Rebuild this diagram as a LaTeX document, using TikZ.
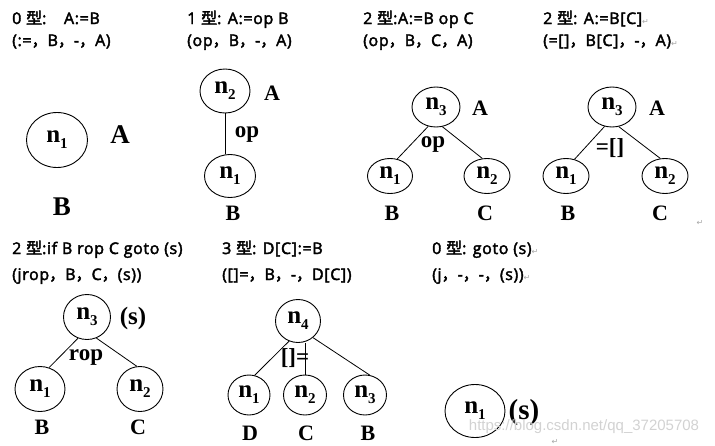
\documentclass[tikz,border=0pt]{standalone}
\usepackage{fontspec}
\setmainfont{Liberation Serif}
\newfontfamily\cjk[FakeBold=2.5]{Noto Sans CJK SC}
\newfontfamily\hfont[FakeBold=2.5,LetterSpace=4]{Open Sans}
\newfontfamily\wmfont{Liberation Sans}
\newfontfamily\dvfont{DejaVu Sans}
\usetikzlibrary{shapes.geometric}
\newcommand{\nsub}[1]{{\fontsize{25}{25}\selectfont\bfseries n\raisebox{-6pt}{\fontsize{15}{15}\selectfont #1}}}
\newcommand{\retmark}{{\dvfont\mdseries\fontsize{8}{8}\selectfont\color{gray!70}↵}}
\newcommand{\xing}{{\cjk 型}}
\newcommand{\cm}{{\cjk ，}}
\begin{document}
\begin{tikzpicture}[x=1pt,y=-1pt,
  hdr/.style={anchor=base west, inner sep=0, font=\hfont\fontsize{16}{16}\selectfont},
  nd/.style={ellipse, draw, line width=0.9pt, inner sep=0},
  lbl/.style={inner sep=0, font=\bfseries\fontsize{22}{22}\selectfont},
  big/.style={inner sep=0, font=\bfseries\fontsize{27}{27}\selectfont},
  oplbl/.style={inner sep=0, font=\bfseries\fontsize{23}{23}\selectfont},
  ed/.style={line width=0.8pt},
  ret/.style={inner sep=0}]
\useasboundingbox (0,0) rectangle (715,445);

% headers
\node[hdr] (h1) at (12,24) {0 \xing:\hspace{1.1em}A:=B};
\node[hdr] (h2) at (12,46) {(:=\cm B\cm -\cm A)};
\node[hdr] (h3) at (187,24) {1 \xing: A:=op B};
\node[hdr] (h4) at (187,46) {(op\cm B\cm -\cm A)};
\node[hdr] (h5) at (363,24) {2 \xing:A:=B op C};
\node[hdr] (h6) at (363,46) {(op\cm B\cm C\cm A)};
\node[hdr] (h7) at (543,24) {2 \xing: A:=B[C]\retmark};
\node[hdr] (h8) at (543,46) {(=[]\cm B[C]\cm -\cm A)\retmark};
\node[hdr] (h9) at (12,254) {2 \xing:if B rop C goto (s)};
\node[hdr] (h10) at (12,280) {(jrop\cm B\cm C\cm (s))};
\node[hdr] (h11) at (222,254) {3 \xing: D[C]:=B};
\node[hdr] (h12) at (222,280) {([]=\cm B\cm -\cm D[C])};
\node[hdr] (h13) at (432,254) {0 \xing: goto (s)\retmark};
\node[hdr] (h14) at (432,280) {(j\cm -\cm -\cm (s))\retmark};

% tree 0
\node[nd, minimum width=61, minimum height=55] (a1) at (57,140) {\nsub{1}};
\node[big] (aA) at (120,135) {A};
\node[big] (aB) at (62,207) {B};

% tree 1
\node[nd, minimum width=50, minimum height=44] (b2) at (225,91) {\nsub{2}};
\node[nd, minimum width=51, minimum height=43] (b1) at (230,176) {\nsub{1}};
\draw[ed] (b2.south) -- (b2.south |- b1.north);
\node[oplbl] (bop) at (247,135) {op};
\node[lbl] (bA) at (272,93) {A};
\node[lbl] (bB) at (233,213) {B};

% tree 2
\node[nd, minimum width=48, minimum height=40] (c3) at (436,107) {\nsub{3}};
\node[nd, minimum width=45, minimum height=35] (c1) at (390,176) {\nsub{1}};
\node[nd, minimum width=46, minimum height=35] (c2) at (487,176) {\nsub{2}};
\draw[ed] (c3.248) -- (c1.67);
\draw[ed] (c3.288) -- (c2.105);
\node[oplbl] (cop) at (433,145) {op};
\node[lbl] (cA) at (480,108) {A};
\node[lbl] (cB) at (392,213) {B};
\node[lbl] (cC) at (485,213) {C};

% tree 3
\node[nd, minimum width=48, minimum height=40] (d3) at (612,107) {\nsub{3}};
\node[nd, minimum width=46, minimum height=35] (d1) at (566,176) {\nsub{1}};
\node[nd, minimum width=46, minimum height=35] (d2) at (665,176) {\nsub{2}};
\draw[ed] (d3.249) -- (d1.63);
\draw[ed] (d3.289) -- (d2.105);
\node[oplbl] (dop) at (610,148) {=[]};
\node[lbl] (dA) at (657,108) {A};
\node[lbl] (dB) at (568,213) {B};
\node[lbl] (dC) at (660,213) {C};
\node[ret] (r1) at (700,223) {\retmark};

% tree jrop
\node[nd, minimum width=47, minimum height=45] (e3) at (87,317) {\nsub{3}};
\node[nd, minimum width=50, minimum height=45] (e1) at (40,389) {\nsub{1}};
\node[nd, minimum width=46, minimum height=45] (e2) at (140,389) {\nsub{2}};
\draw[ed] (e3.247) -- (e1.67);
\draw[ed] (e3.294) -- (e2.98);
\node[oplbl] (eop) at (86,357) {rop};
\node[inner sep=0, font=\bfseries\fontsize{25}{25}\selectfont] (es) at (133,318) {(s)};
\node[lbl] (eB) at (42,427) {B};
\node[lbl] (eC) at (138,427) {C};

% tree D[C]
\node[nd, minimum width=45, minimum height=43] (f4) at (298,321) {\nsub{4}};
\node[nd, minimum width=42, minimum height=40] (f1) at (249,395) {\nsub{1}};
\node[nd, minimum width=43, minimum height=40] (f2) at (305,395) {\nsub{2}};
\node[nd, minimum width=43, minimum height=40] (f3) at (365,395) {\nsub{3}};
\draw[ed] (f4.246) -- (f1.74);
\draw[ed] (f2.north |- f4.south) -- (f2.north);
\draw[ed] (f4.312) -- (f3.77);
\node[oplbl] (fop) at (295,358) {[]=};
\node[lbl] (fD) at (250,433) {D};
\node[lbl] (fC) at (306,433) {C};
\node[lbl] (fB) at (368,433) {B};

% goto
\node[nd, minimum width=60, minimum height=53] (g1) at (475,411) {\nsub{1}};
\node[inner sep=0, font=\bfseries\fontsize{29}{29}\selectfont] (gs) at (524,413) {(s)};
\node[inner sep=0, text=gray!35, font=\wmfont\fontsize{15}{15}\selectfont] (wm) at (584,427) {https://blog.csdn.net/qq\_37205708};
\node[ret] (r2) at (555,442) {\retmark};
\end{tikzpicture}
\end{document}
